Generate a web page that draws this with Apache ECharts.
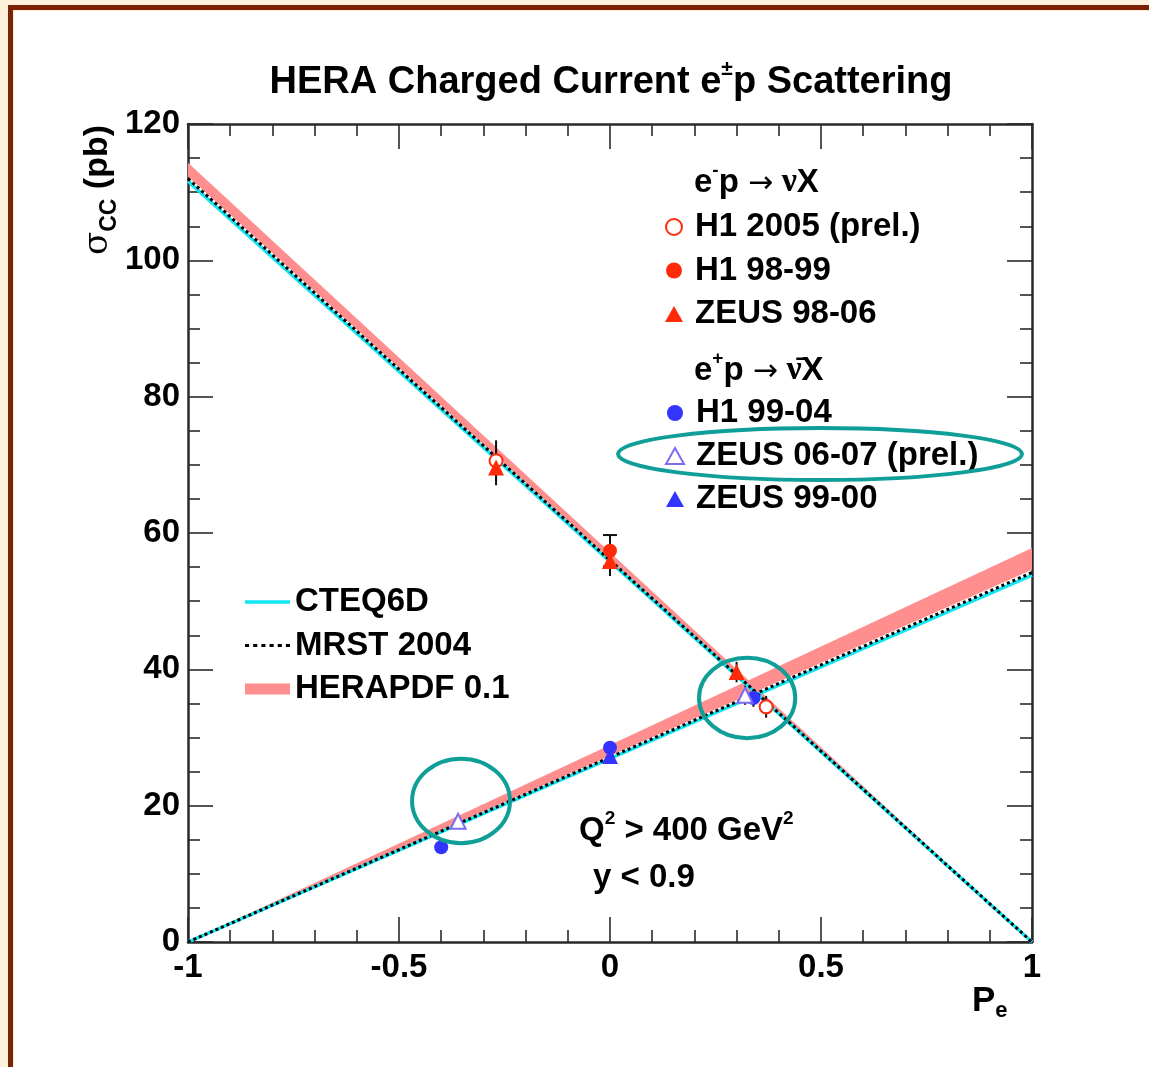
<!DOCTYPE html>
<html>
<head>
<meta charset="utf-8">
<script src="https://cdn.jsdelivr.net/npm/echarts@6/dist/echarts.min.js"></script>
<style>
  html, body { margin: 0; padding: 0; background: #fdf1dc; }
  #chart { width: 1149px; height: 1067px; }
</style>
</head>
<body>
<div id="chart"></div>
<script>
// Axis layout (electron beam polarisation vs. charged-current cross section)
const xRange = [-1, 1];
const yRange = [0, 120];
const xTickStep = 0.5;
const yTickStep = 20;

// Measurements: [Pe, sigma_CC (pb), error (pb)]
const h1_2005 = [[-0.27, 70.6, 3.0], [0.37, 34.5, 1.6]];
const h1_9899 = [[0.0, 57.4, 2.3]];
const zeus_9806 = [[-0.27, 69.6, 2.6], [0.0, 55.9, 2.2], [0.30, 39.6, 1.5]];
const h1_9904 = [[-0.40, 13.9, 0.9], [0.0, 28.5, 0.9], [0.34, 35.8, 1.3]];
const zeus_0607 = [[-0.36, 17.7, 1.0], [0.32, 36.2, 1.4]];
const zeus_9900 = [[0.0, 27.3, 1.0]];

// SM predictions at Pe = -1 and Pe = +1 (linear in Pe)
const peEnds = [-1, 1];
const cteqEminus = [111.6, 0];
const cteqEplus = [0, 53.8];
const mrstEminus = [112.0, 0];
const mrstEplus = [0, 54.2];
const heraEminusLow = [112.3, 0];
const heraEminusHigh = [114.3, 0];
const heraEplusLow = [0, 54.6];
const heraEplusHigh = [0, 57.8];

const FONT = 'Liberation Sans, Arial, Helvetica, sans-serif';
const RED = '#ff2a0a';
const BLUE = '#3434ff';
const LILAC = '#7c6cf2';
const TEAL = '#0f9e98';
const PINK = '#ff8e8e';

const toPairs = (xs, ys) => xs.map((x, i) => [x, ys[i]]);

const chart = echarts.init(document.getElementById('chart'), null, { renderer: 'canvas' });

// error bars: [Pe, sigma, err, withCaps]; the H1 98-99 points are drawn with end caps
const withCaps = (rows, caps) => rows.map(d => [d[0], d[1], d[2], caps]);
const errorBars = [].concat(
  withCaps(h1_2005, 0), withCaps(h1_9899, 1), withCaps(zeus_9806, 0),
  withCaps(h1_9904, 0), withCaps(zeus_0607, 0), withCaps(zeus_9900, 0)
);

const bands = [
  [peEnds[0], heraEminusLow[0], heraEminusHigh[0], peEnds[1], heraEminusLow[1], heraEminusHigh[1]],
  [peEnds[0], heraEplusLow[0], heraEplusHigh[0], peEnds[1], heraEplusLow[1], heraEplusHigh[1]]
];

const tickColor = '#2a2a2a';
function xAxisDef(pos, labels) {
  return {
    type: 'value', position: pos, min: xRange[0], max: xRange[1], interval: xTickStep,
    axisLine: { show: true, onZero: false, lineStyle: { color: tickColor, width: 2.5 } },
    axisTick: { show: true, inside: true, length: 25, lineStyle: { color: tickColor, width: 1.6 } },
    minorTick: { show: true, splitNumber: 5, length: 12, lineStyle: { color: tickColor, width: 1.6 } },
    splitLine: { show: false },
    axisLabel: {
      show: labels, margin: 9, color: '#000', fontFamily: FONT, fontWeight: 'bold', fontSize: 33,
      formatter: v => String(v), hideOverlap: false, showMinLabel: true, showMaxLabel: true
    }
  };
}
function yAxisDef(pos, labels) {
  return {
    type: 'value', position: pos, min: yRange[0], max: yRange[1], interval: yTickStep,
    axisLine: { show: true, onZero: false, lineStyle: { color: tickColor, width: 2.5 } },
    axisTick: { show: true, inside: true, length: 25, lineStyle: { color: tickColor, width: 1.6 } },
    minorTick: { show: true, splitNumber: 4, length: 12, lineStyle: { color: tickColor, width: 1.6 } },
    splitLine: { show: false },
    axisLabel: {
      show: labels, margin: 8, color: '#000', fontFamily: FONT, fontWeight: 'bold', fontSize: 33,
      hideOverlap: false, showMinLabel: true, showMaxLabel: true
    }
  };
}

const legendText = { fontFamily: FONT, fontWeight: 'bold', fontSize: 33, color: '#000', lineHeight: 34 };
const markerLegendText = Object.assign({}, legendText, { padding: [0, 0, 0, 7] });

const option = {
  backgroundColor: '#fdf1dc',
  animation: false,
  grid: { left: 188, right: 117, top: 124, bottom: 125, outerBoundsMode: 'none', containLabel: false },
  xAxis: [xAxisDef('bottom', true), xAxisDef('top', false)],
  yAxis: [yAxisDef('left', true), yAxisDef('right', false)],
  legend: [
    {
      orient: 'vertical', left: 660, top: 205, itemWidth: 18, itemHeight: 16, itemGap: 9.5,
      textStyle: markerLegendText, selectedMode: false,
      data: ['H1 2005 (prel.)', 'H1 98-99', 'ZEUS 98-06']
    },
    {
      orient: 'vertical', left: 660, top: 391, itemWidth: 18, itemHeight: 16, itemGap: 9,
      textStyle: markerLegendText, selectedMode: false,
      data: ['H1 99-04', 'ZEUS 06-07 (prel.)', 'ZEUS 99-00']
    },
    {
      orient: 'vertical', left: 240, top: 580, itemWidth: 45, itemHeight: 12, itemGap: 9.5,
      textStyle: legendText, selectedMode: false,
      data: [
        { name: 'CTEQ6D', icon: 'path://M0,0H45V3.5H0Z' },
        { name: 'MRST 2004', icon: 'path://M0,0h4v3h-4zM8,0h4v3h-4zM16,0h4v3h-4zM24,0h4v3h-4zM32,0h4v3h-4zM40,0h4v3h-4z' },
        { name: 'HERAPDF 0.1', icon: 'path://M0,0H45V11H0Z' }
      ]
    }
  ],
  series: [
    {
      name: 'HERAPDF 0.1', type: 'custom', z: 1, silent: true,
      itemStyle: { color: PINK },
      data: bands,
      renderItem: (params, api) => {
        const a = api.coord([api.value(0), api.value(1)]);
        const b = api.coord([api.value(3), api.value(4)]);
        const c = api.coord([api.value(3), api.value(5)]);
        const d = api.coord([api.value(0), api.value(2)]);
        return { type: 'polygon', shape: { points: [a, b, c, d] }, style: { fill: PINK } };
      }
    },
    {
      name: 'CTEQ6D', type: 'line', z: 2, symbol: 'none', color: '#12e6f2',
      lineStyle: { color: '#12e6f2', width: 3.5 }, data: toPairs(peEnds, cteqEminus)
    },
    {
      name: 'CTEQ6D', type: 'line', z: 2, symbol: 'none', color: '#12e6f2',
      lineStyle: { color: '#12e6f2', width: 3.5 }, data: toPairs(peEnds, cteqEplus)
    },
    {
      name: 'MRST 2004', type: 'line', z: 3, symbol: 'none', color: '#000',
      lineStyle: { color: '#000', width: 3, type: [3, 3] }, data: toPairs(peEnds, mrstEminus)
    },
    {
      name: 'MRST 2004', type: 'line', z: 3, symbol: 'none', color: '#000',
      lineStyle: { color: '#000', width: 3, type: [3, 3] }, data: toPairs(peEnds, mrstEplus)
    },
    {
      name: 'errors', type: 'custom', z: 4, silent: true, data: errorBars,
      renderItem: (params, api) => {
        const x = api.value(0), y = api.value(1), e = api.value(2), cap = api.value(3);
        const top = api.coord([x, y + e]);
        const bot = api.coord([x, y - e]);
        const children = [{
          type: 'line', shape: { x1: top[0], y1: top[1], x2: bot[0], y2: bot[1] },
          style: { stroke: '#111', lineWidth: 2 }
        }];
        if (cap) {
          children.push({ type: 'line', shape: { x1: top[0] - 7, y1: top[1], x2: top[0] + 7, y2: top[1] }, style: { stroke: '#111', lineWidth: 2 } });
          children.push({ type: 'line', shape: { x1: bot[0] - 7, y1: bot[1], x2: bot[0] + 7, y2: bot[1] }, style: { stroke: '#111', lineWidth: 2 } });
        }
        return { type: 'group', children };
      }
    },
    {
      name: 'H1 2005 (prel.)', type: 'scatter', z: 5, symbol: 'emptyCircle', symbolSize: 13,
      itemStyle: { color: RED, borderWidth: 2, opacity: 1 }, data: h1_2005.map(d => [d[0], d[1]])
    },
    {
      name: 'H1 98-99', type: 'scatter', z: 5, symbol: 'circle', symbolSize: 14,
      itemStyle: { color: RED, opacity: 1 }, data: h1_9899.map(d => [d[0], d[1]])
    },
    {
      name: 'ZEUS 98-06', type: 'scatter', z: 5, symbol: 'triangle', symbolSize: 16,
      itemStyle: { color: RED, opacity: 1 }, data: zeus_9806.map(d => [d[0], d[1]])
    },
    {
      name: 'H1 99-04', type: 'scatter', z: 5, symbol: 'circle', symbolSize: 14,
      itemStyle: { color: BLUE, opacity: 1 }, data: h1_9904.map(d => [d[0], d[1]])
    },
    {
      name: 'ZEUS 06-07 (prel.)', type: 'scatter', z: 5, symbol: 'emptyTriangle', symbolSize: 15,
      itemStyle: { color: LILAC, borderWidth: 2, opacity: 1 }, data: zeus_0607.map(d => [d[0], d[1]])
    },
    {
      name: 'ZEUS 99-00', type: 'scatter', z: 5, symbol: 'triangle', symbolSize: 16,
      itemStyle: { color: BLUE, opacity: 1 }, data: zeus_9900.map(d => [d[0], d[1]])
    }
  ]
};

chart.setOption(option);

// Text, frame and highlight rings are overlaid once the axes are laid out
const main = { fontFamily: FONT, fontWeight: 'bold', fontSize: 33, fill: '#000', lineHeight: 38, verticalAlign: 'bottom' };
const sup = { fontFamily: FONT, fontWeight: 'bold', fontSize: 19, fill: '#000', lineHeight: 19, verticalAlign: 'top' };
const greek = { fontFamily: 'Liberation Serif, DejaVu Serif, serif', fontWeight: 'bold', fontSize: 34, fill: '#000', lineHeight: 38, verticalAlign: 'bottom' };
const arrow = { fontFamily: 'DejaVu Sans, sans-serif', fontSize: 30, fill: '#000', lineHeight: 38, verticalAlign: 'bottom' };

const ring1 = chart.convertToPixel({ gridIndex: 0 }, [0.325, 35.8]);
const ring1b = chart.convertToPixel({ gridIndex: 0 }, [0.325 + 0.114, 35.8 + 5.9]);
const ring2 = chart.convertToPixel({ gridIndex: 0 }, [-0.353, 20.7]);
const ring2b = chart.convertToPixel({ gridIndex: 0 }, [-0.353 + 0.116, 20.7 + 6.2]);

chart.setOption({
  graphic: [
    // slide frame
    { type: 'rect', z: -10, silent: true, shape: { x: 8, y: 5, width: 1200, height: 1200 }, style: { fill: '#7b2206' } },
    { type: 'rect', z: -9, silent: true, shape: { x: 13, y: 10, width: 1200, height: 1200 }, style: { fill: '#fbe9d4' } },
    { type: 'rect', z: -8, silent: true, shape: { x: 14, y: 11, width: 1200, height: 1200 }, style: { fill: '#ffffff' } },
    // title
    {
      type: 'text', x: 611, y: 80, silent: true,
      style: {
        text: '{m|HERA Charged Current e}{s|±}{m|p Scattering}', align: 'center', verticalAlign: 'middle',
        rich: {
          m: { fontFamily: FONT, fontWeight: 'bold', fontSize: 38, fill: '#000', lineHeight: 43, verticalAlign: 'bottom' },
          s: { fontFamily: FONT, fontWeight: 'bold', fontSize: 21, fill: '#000', lineHeight: 21, verticalAlign: 'top' }
        }
      }
    },
    // y axis title
    {
      type: 'text', x: 101, y: 190, rotation: Math.PI / 2, silent: true,
      style: {
        text: '{g|σ}{c|CC}{m| (pb)}', align: 'center', verticalAlign: 'middle',
        rich: {
          g: { fontFamily: 'DejaVu Serif, serif', fontSize: 34, fill: '#000', lineHeight: 40, verticalAlign: 'top' },
          c: { fontFamily: FONT, fontWeight: 'bold', fontSize: 23, fill: '#000', lineHeight: 23, verticalAlign: 'bottom' },
          m: { fontFamily: FONT, fontWeight: 'bold', fontSize: 34, fill: '#000', lineHeight: 40, verticalAlign: 'top' }
        }
      }
    },
    // x axis title
    {
      type: 'text', x: 972, y: 1022, silent: true,
      style: {
        text: '{m|P}{c|e}', align: 'left', verticalAlign: 'bottom',
        rich: {
          m: { fontFamily: FONT, fontWeight: 'bold', fontSize: 35, fill: '#000', lineHeight: 38, verticalAlign: 'top' },
          c: { fontFamily: FONT, fontWeight: 'bold', fontSize: 22, fill: '#000', lineHeight: 22, verticalAlign: 'bottom' }
        }
      }
    },
    // legend headers
    {
      type: 'text', x: 694, y: 180, silent: true,
      style: {
        text: '{m|e}{s|-}{m|p }{a|→}{g| ν}{m|X}', align: 'left', verticalAlign: 'middle',
        rich: { m: main, s: sup, a: arrow, g: greek }
      }
    },
    {
      type: 'text', x: 694, y: 368, silent: true,
      style: {
        text: '{m|e}{s|+}{m|p }{a|→}{g| ν̄}{m|X}', align: 'left', verticalAlign: 'middle',
        rich: { m: main, s: sup, a: arrow, g: greek }
      }
    },
    // kinematic cuts
    {
      type: 'text', x: 579, y: 828, silent: true,
      style: {
        text: '{m|Q}{s|2}{m| > 400 GeV}{s|2}', align: 'left', verticalAlign: 'middle',
        rich: { m: main, s: sup }
      }
    },
    {
      type: 'text', x: 593, y: 878, silent: true,
      style: { text: 'y < 0.9', align: 'left', verticalAlign: 'middle', font: 'bold 33px ' + FONT, fill: '#000' }
    },
    // highlight rings
    {
      type: 'ellipse', z: 100, silent: true,
      shape: { cx: 820, cy: 454, rx: 202, ry: 26 },
      style: { fill: null, stroke: TEAL, lineWidth: 4 }
    },
    {
      type: 'ellipse', z: 100, silent: true,
      shape: { cx: ring1[0], cy: ring1[1], rx: ring1b[0] - ring1[0], ry: ring1[1] - ring1b[1] },
      style: { fill: null, stroke: TEAL, lineWidth: 4 }
    },
    {
      type: 'ellipse', z: 100, silent: true,
      shape: { cx: ring2[0], cy: ring2[1], rx: ring2b[0] - ring2[0], ry: ring2[1] - ring2b[1] },
      style: { fill: null, stroke: TEAL, lineWidth: 4 }
    }
  ]
});
</script>
</body>
</html>
